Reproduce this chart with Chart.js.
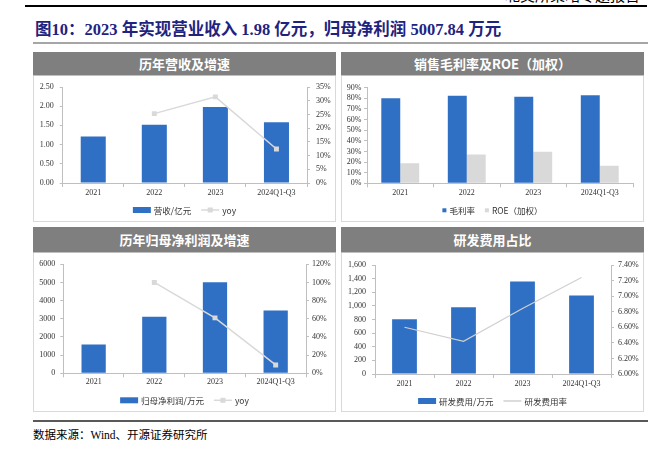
<!DOCTYPE html>
<html>
<head>
<meta charset="utf-8">
<script src="https://cdn.jsdelivr.net/npm/chart.js@4"></script>
<style>
  body { margin: 0; width: 667px; height: 449px; overflow: hidden; background: #fff; position: relative; }
  .abs { position: absolute; }
  .topnote { right: 27px; top: -11px; font: 15px "Liberation Serif", "Noto Sans CJK SC"; line-height: 15px; color: #000; }
  .topline { left: 25px; top: 5px; width: 622px; height: 1.5px; background: #000; }
  .title { left: 35px; top: 21px; font: bold 16.5px "Liberation Serif", "Noto Sans CJK SC"; line-height: 18px; color: #1f2380; white-space: nowrap; }
  .titleline { left: 33px; top: 42px; width: 615px; height: 2px; background: #a6a6a6; }
  .head { background: #7f7f7f; color: #fff; font: bold 13px "Noto Sans CJK SC"; text-align: center; box-sizing: border-box; border-bottom: 1px solid #bfbfbf; }
  .box { border: 1px solid #d9d9d9; border-top: none; box-sizing: border-box; }
  .srcline { left: 33px; top: 420px; width: 615px; height: 2px; background: #595959; }
  .source { left: 33px; top: 428px; font: 11.5px "Liberation Serif", "Noto Sans CJK SC"; line-height: 14px; color: #000; white-space: nowrap; }
</style>
</head>
<body>
<div class="abs topnote">北交所策略专题报告</div>
<div class="abs topline"></div>
<div class="abs title">图10：2023 年实现营业收入 1.98 亿元，归母净利润 5007.84 万元</div>
<div class="abs titleline"></div>

<div class="abs head" style="left:33px;top:52px;width:303px;height:24px;line-height:23px;">历年营收及增速</div>
<div class="abs box" style="left:33px;top:76px;width:303px;height:146px;"></div>
<div class="abs" style="left:34px;top:77px;width:301px;height:144px;"><canvas id="c1"></canvas></div>

<div class="abs head" style="left:341px;top:52px;width:303px;height:24px;line-height:23px;">销售毛利率及ROE（加权）</div>
<div class="abs box" style="left:341px;top:76px;width:303px;height:146px;"></div>
<div class="abs" style="left:342px;top:77px;width:301px;height:144px;"><canvas id="c2"></canvas></div>

<div class="abs head" style="left:33px;top:227px;width:303px;height:26px;line-height:25px;">历年归母净利润及增速</div>
<div class="abs box" style="left:33px;top:253px;width:303px;height:159px;"></div>
<div class="abs" style="left:34px;top:254px;width:301px;height:157px;"><canvas id="c3"></canvas></div>

<div class="abs head" style="left:341px;top:227px;width:303px;height:26px;line-height:25px;">研发费用占比</div>
<div class="abs box" style="left:341px;top:253px;width:303px;height:159px;"></div>
<div class="abs" style="left:342px;top:254px;width:301px;height:157px;"><canvas id="c4"></canvas></div>

<div class="abs srcline"></div>
<div class="abs source">数据来源：Wind、开源证券研究所</div>

<script>
// 数据
const years = ['2021', '2022', '2023', '2024Q1-Q3'];
const revenue = [1.21, 1.52, 1.98, 1.58];        // 营收/亿元
const revenueYoy = [null, 25.3, 31.4, 12.4];     // %
const grossMargin = [80.0, 82.5, 81.5, 82.8];    // %
const roeWeighted = [18.8, 27.0, 29.8, 16.6];    // %
const netProfit = [1580, 3110, 5008, 3460];      // 万元
const netProfitYoy = [null, 100.0, 61.0, 9.2];   // %
const rdExpense = [802, 978, 1359, 1154];        // 万元
const rdRatio = [6.60, 6.42, 6.84, 7.24];        // %

// 坐标轴范围 [min, max, step]
const revenueAxis = [0, 2.5, 0.5];
const revenueYoyAxis = [0, 35, 5];
const marginAxis = [0, 90, 10];
const profitAxis = [0, 6000, 1000];
const profitYoyAxis = [0, 120, 20];
const rdAxis = [0, 1600, 200];
const rdRatioAxis = [6.0, 7.4, 0.2];

const BLUE = '#3070c4';
const GREY = '#d9d9d9';
const AXIS = '#bfbfbf';
const tickFont = { family: 'Liberation Serif', size: 8, lineHeight: 1 };

// 底部图例
const bottomLegend = {
  id: 'bottomLegend',
  afterDraw(chart) {
    const ctx = chart.ctx;
    const items = chart.data.datasets;
    ctx.save();
    ctx.font = '8.5px "Noto Sans CJK SC"';
    ctx.textBaseline = 'middle';
    const symW = items.map(d => d.legendKind === 'square' ? 4 : 18);
    const txtW = items.map(d => ctx.measureText(d.label).width);
    let total = 0;
    items.forEach((d, i) => { total += symW[i] + 3 + txtW[i]; });
    total += 10 * (items.length - 1);
    let x = (chart.width - total) / 2;
    const y = chart.chartArea.bottom + 27;
    items.forEach((d, i) => {
      const col = d.legendColor;
      if (d.legendKind === 'bar') {
        ctx.fillStyle = col;
        ctx.fillRect(x, y - 3, symW[i], 6);
      } else if (d.legendKind === 'square') {
        ctx.fillStyle = col;
        ctx.fillRect(x, y - 2, 4, 4);
      } else {
        ctx.strokeStyle = col;
        ctx.lineWidth = 1.5;
        ctx.beginPath();
        ctx.moveTo(x, y);
        ctx.lineTo(x + symW[i], y);
        ctx.stroke();
        if (d.legendMarker) {
          ctx.fillStyle = col;
          ctx.fillRect(x + symW[i] / 2 - 2.5, y - 2.5, 5, 5);
        }
      }
      x += symW[i] + 3;
      ctx.fillStyle = '#333';
      ctx.fillText(d.label, x, y + 0.5);
      x += txtW[i] + 10;
    });
    ctx.restore();
  }
};

function yAxis(range, pos, width, pad, fmt) {
  return {
    position: pos,
    min: range[0], max: range[1],
    afterFit: s => { s.width = width; },
    grid: { drawOnChartArea: false, drawTicks: true, tickLength: 3, color: AXIS },
    border: { display: true, color: AXIS },
    ticks: { stepSize: range[2], autoSkip: false, padding: pad, font: tickFont, color: '#333', callback: fmt }
  };
}

function xAxis(pad) {
  return {
    offset: true,
    afterFit: s => { s.height = 16; },
    grid: { offset: true, drawOnChartArea: false, drawTicks: true, tickLength: 4, color: AXIS },
    border: { display: true, color: AXIS },
    ticks: { padding: pad, font: tickFont, color: '#333', maxRotation: 0, autoSkip: false }
  };
}

function makeChart(id, datasets, scales, padding) {
  return new Chart(document.getElementById(id), {
    type: 'bar',
    data: { labels: years, datasets: datasets },
    options: {
      responsive: true,
      maintainAspectRatio: false,
      animation: false,
      layout: { padding: padding },
      plugins: { legend: { display: false }, tooltip: { enabled: false } },
      scales: scales
    },
    plugins: [bottomLegend]
  });
}

const pct0 = v => v + '%';

// 历年营收及增速
makeChart('c1', [
  { label: '营收/亿元', data: revenue, backgroundColor: BLUE, legendKind: 'bar', legendColor: BLUE,
    yAxisID: 'y', barPercentage: 0.41, categoryPercentage: 1, order: 1 },
  { type: 'line', label: 'yoy', data: revenueYoy, borderColor: GREY, borderWidth: 1.5,
    pointStyle: 'rect', pointRadius: 3.5, pointBackgroundColor: GREY, pointBorderWidth: 0,
    legendKind: 'line', legendMarker: true, legendColor: GREY, yAxisID: 'y1', order: 0 }
], {
  x: xAxis(2),
  y: yAxis(revenueAxis, 'left', 28.7, 6, v => v.toFixed(2)),
  y1: yAxis(revenueYoyAxis, 'right', 28, 6, pct0)
}, { top: 10, bottom: 22, left: 0, right: 0 });

// 销售毛利率及ROE（加权）
makeChart('c2', [
  { label: '毛利率', data: grossMargin, backgroundColor: BLUE, legendKind: 'square', legendColor: BLUE,
    barPercentage: 1, categoryPercentage: 0.57 },
  { label: 'ROE（加权）', data: roeWeighted, backgroundColor: GREY, legendKind: 'square', legendColor: GREY,
    barPercentage: 1, categoryPercentage: 0.57 }
], {
  x: xAxis(2),
  y: yAxis(marginAxis, 'left', 25, 2.5, pct0)
}, { top: 10.7, bottom: 21.7, left: 0, right: 10 });

// 历年归母净利润及增速
makeChart('c3', [
  { label: '归母净利润/万元', data: netProfit, backgroundColor: BLUE, legendKind: 'bar', legendColor: BLUE,
    yAxisID: 'y', barPercentage: 0.40, categoryPercentage: 1, order: 1 },
  { type: 'line', label: 'yoy', data: netProfitYoy, borderColor: GREY, borderWidth: 1.5,
    pointStyle: 'rect', pointRadius: 3.5, pointBackgroundColor: GREY, pointBorderWidth: 0,
    legendKind: 'line', legendMarker: true, legendColor: GREY, yAxisID: 'y1', order: 0 }
], {
  x: xAxis(1),
  y: yAxis(profitAxis, 'left', 29.3, 5, v => String(v)),
  y1: yAxis(profitYoyAxis, 'right', 29, 3, pct0)
}, { top: 10.3, bottom: 21.7, left: 0, right: 0 });

// 研发费用占比
makeChart('c4', [
  { label: '研发费用/万元', data: rdExpense, backgroundColor: BLUE, legendKind: 'bar', legendColor: BLUE,
    yAxisID: 'y', barPercentage: 0.42, categoryPercentage: 1, order: 1 },
  { type: 'line', label: '研发费用率', data: rdRatio, borderColor: '#d0d0d0', borderWidth: 1.2,
    pointRadius: 0, legendKind: 'line', legendMarker: false, legendColor: '#d0d0d0', yAxisID: 'y1', order: 0 }
], {
  x: xAxis(2),
  y: yAxis(rdAxis, 'left', 33, 6, v => v.toLocaleString('en-US')),
  y1: yAxis(rdRatioAxis, 'right', 32, 4, v => v.toFixed(2) + '%')
}, { top: 11, bottom: 21, left: 0, right: 0 });
</script>
</body>
</html>
